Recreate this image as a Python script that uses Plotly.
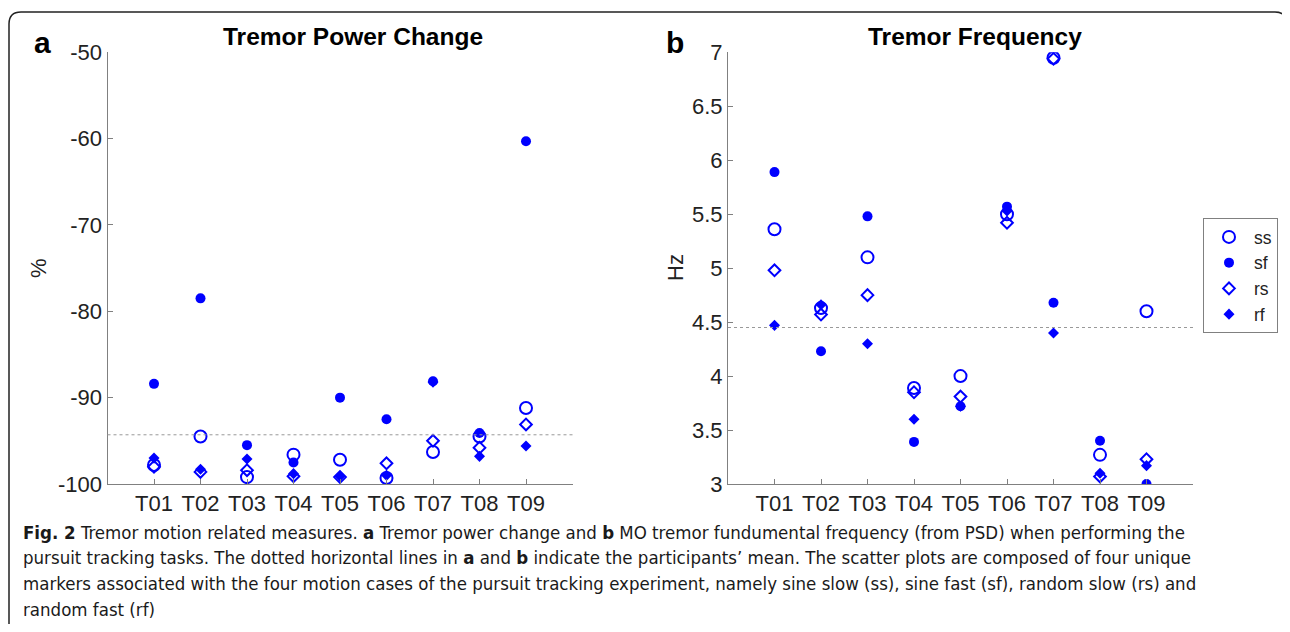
"""Tremor power change and tremor frequency scatter panels (Fig. 2)."""

import plotly.graph_objects as go
from plotly.subplots import make_subplots

# page body keeps an 8px margin, so the figure is drawn 16px smaller
PAGE_OFFSET = 8
W, H = 1290 - 2 * PAGE_OFFSET, 632 - 2 * PAGE_OFFSET
BLUE = "#0000FF"
AXIS_GRAY = "#808080"
FONT = "Liberation Sans, Arial, Helvetica, sans-serif"
CAPTION_FONT = "Liberation Sans Narrow, DejaVu Sans Condensed, Arial Narrow, sans-serif"

tasks = ["T01", "T02", "T03", "T04", "T05", "T06", "T07", "T08", "T09"]
series_names = ["ss", "sf", "rs", "rf"]

# a: tremor power change (%)
power_ss = [-97.8, -94.5, -99.2, -96.6, -97.2, -99.3, -96.3, -94.5, -91.2]
power_sf = [-88.4, -78.5, -95.5, -97.5, -90.0, -92.5, -88.1, -94.1, -60.3]
power_rs = [-98.0, -98.6, -98.4, -99.1, -99.2, -97.6, -95.0, -95.8, -93.1]
power_rf = [-97.0, -98.3, -97.1, -98.8, -99.1, -99.0, -88.2, -96.8, -95.6]
power_mean = -94.3
power_ticks = [-100, -90, -80, -70, -60, -50]

# b: tremor frequency (Hz)
freq_ss = [5.36, 4.63, 5.10, 3.89, 4.00, 5.50, 6.95, 3.27, 4.60]
freq_sf = [5.89, 4.23, 5.48, 3.39, 3.72, 5.57, 4.68, 3.40, 3.00]
freq_rs = [4.98, 4.57, 4.75, 3.85, 3.81, 5.42, 6.94, 3.07, 3.23]
freq_rf = [4.47, 4.66, 4.30, 3.60, 3.72, 5.53, 4.40, 3.10, 3.17]
freq_mean = 4.45
freq_ticks = [3, 3.5, 4, 4.5, 5, 5.5, 6, 6.5, 7]

MARKERS = {
    "ss": dict(symbol="circle-open", size=12, line=dict(width=2, color=BLUE)),
    "sf": dict(symbol="circle", size=10, line=dict(width=0)),
    "rs": dict(symbol="diamond-open", size=9, line=dict(width=2, color=BLUE)),
    "rf": dict(symbol="diamond", size=8.5, line=dict(width=0)),
}


def px_x(v):
    """Screen x pixel -> paper fraction."""
    return (v - PAGE_OFFSET) / W


def px_y(v):
    """Screen y pixel -> paper fraction."""
    return 1 - (v - PAGE_OFFSET) / H


fig = make_subplots(rows=1, cols=2)

panels = [
    (1, [power_ss, power_sf, power_rs, power_rf], power_mean),
    (2, [freq_ss, freq_sf, freq_rs, freq_rf], freq_mean),
]
for col, series, mean in panels:
    for name, values in zip(series_names, series):
        fig.add_trace(
            go.Scatter(
                x=tasks, y=values, mode="markers", name=name,
                marker=dict(color=BLUE, **MARKERS[name]),
                showlegend=(col == 2),
            ),
            row=1, col=col,
        )
    fig.add_hline(y=mean, line_dash="dot", line_color="#999999", line_width=1,
                  row=1, col=col)

axis_common = dict(
    showgrid=False, zeroline=False, showline=True, linecolor=AXIS_GRAY,
    linewidth=1, ticks="inside", tickcolor=AXIS_GRAY, ticklen=5,
    automargin=False,
    tickfont=dict(family=FONT, size=22, color="#222222"),
)

y_top, y_bot = px_y(52.3), px_y(484)
fig.update_xaxes(**axis_common, range=[-1, 9], categoryorder="array",
                 categoryarray=tasks)
fig.update_xaxes(domain=[px_x(107.5), px_x(572.5)], row=1, col=1)
fig.update_xaxes(domain=[px_x(728), px_x(1193)], row=1, col=2)

fig.update_yaxes(**axis_common, domain=[y_bot, y_top])
fig.update_yaxes(range=[-100, -50], tickvals=power_ticks,
                 ticktext=[str(v) for v in power_ticks], row=1, col=1)
fig.update_yaxes(range=[3, 7], tickvals=freq_ticks,
                 ticktext=[f"{v:g}" for v in freq_ticks], row=1, col=2)

annotations = [
    dict(x=px_x(353), y=px_y(37), text="<b>Tremor Power Change</b>",
         font=dict(size=24.5)),
    dict(x=px_x(975), y=px_y(37), text="<b>Tremor Frequency</b>",
         font=dict(size=24.5)),
    dict(x=px_x(42), y=px_y(42), text="<b>a</b>", font=dict(size=30)),
    dict(x=px_x(675), y=px_y(42), text="<b>b</b>", font=dict(size=30)),
    dict(x=px_x(38), y=px_y(268), text="%", textangle=-90,
         font=dict(size=22, color="#222222")),
    dict(x=px_x(675), y=px_y(268), text="Hz", textangle=-90,
         font=dict(size=22, color="#222222")),
]
for a in annotations:
    a.update(xref="paper", yref="paper", showarrow=False,
             xanchor="center", yanchor="middle")
    a["font"].setdefault("family", FONT)
    a["font"].setdefault("color", "black")

caption_lines = [
    "<b>Fig. 2</b> Tremor motion related measures. <b>a</b> Tremor power change and "
    "<b>b</b> MO tremor fundumental frequency (from PSD) when performing the",
    "pursuit tracking tasks. The dotted horizontal lines in <b>a</b> and <b>b</b> "
    "indicate the participants\u2019 mean. The scatter plots are composed of four unique",
    "markers associated with the four motion cases of the pursuit tracking experiment, "
    "namely sine slow (ss), sine fast (sf), random slow (rs) and",
    "random fast (rf)",
]
for i, line in enumerate(caption_lines):
    annotations.append(dict(
        x=px_x(21), y=px_y(532 + i * 25.7), xref="paper", yref="paper",
        text=line, showarrow=False, xanchor="left", yanchor="middle",
        font=dict(family=CAPTION_FONT, size=18.5, color="#1a1a1a"),
    ))

fig.update_layout(
    width=W, height=H,
    margin=dict(l=0, r=0, t=0, b=0, autoexpand=False),
    paper_bgcolor="white", plot_bgcolor="white",
    font=dict(family=FONT),
    annotations=annotations,
    legend=dict(
        x=px_x(1203), y=px_y(218), xanchor="left", yanchor="top",
        bordercolor=AXIS_GRAY, borderwidth=1, bgcolor="white",
        font=dict(family=FONT, size=17.5, color="#222222"),
        itemwidth=40, tracegroupgap=0,
    ),
)

# rounded frame around the figure
x0, x1, y0, y1 = px_x(9), px_x(1287), px_y(12), px_y(660)
rx, ry = 12 / W, 12 / H
frame_path = (
    f"M {x0},{y1} L {x0},{y0 - ry} Q {x0},{y0} {x0 + rx},{y0} "
    f"L {x1 - rx},{y0} Q {x1},{y0} {x1},{y0 - ry} L {x1},{y1}"
)
fig.add_shape(type="path", path=frame_path, xref="paper", yref="paper",
              line=dict(color="#222222", width=1.5, dash="solid"))

fig.write_html("out.html")
